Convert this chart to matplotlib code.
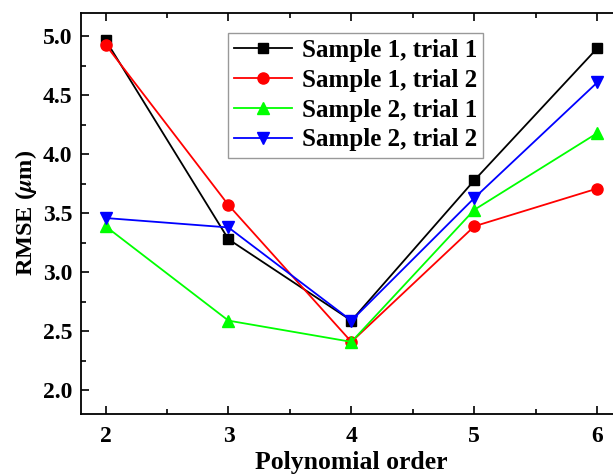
import numpy as np
from matplotlib import pyplot as plt

plt.rcParams['font.family'] = 'Liberation Serif'
plt.rcParams['font.weight'] = 'bold'
plt.rcParams['mathtext.fontset'] = 'stix'

order = [2, 3, 4, 5, 6]
s1t1 = [4.97, 3.28, 2.59, 3.78, 4.90]
s1t2 = [4.93, 3.57, 2.41, 3.39, 3.71]
s2t1 = [3.39, 2.59, 2.41, 3.53, 4.18]
s2t2 = [3.46, 3.38, 2.59, 3.63, 4.61]
labels = ['Sample 1, trial 1', 'Sample 1, trial 2', 'Sample 2, trial 1', 'Sample 2, trial 2']

fig = plt.figure(figsize=(6.13, 4.74), dpi=100)
ax = fig.add_axes([0.132, 0.127, 0.8825, 0.846])

ax.plot(order, s1t1, color='black', marker='s', ms=7, lw=1.3, label=labels[0])
ax.plot(order, s1t2, color='#ff0000', marker='o', ms=8, lw=1.3, label=labels[1])
ax.plot(order, s2t1, color='#00ff00', marker='^', ms=8, lw=1.3, label=labels[2])
ax.plot(order, s2t2, color='#0000ff', marker='v', ms=8, lw=1.3, label=labels[3])

ax.set_xlim(1.8, 6.2)
ax.set_ylim(1.8, 5.2)
ax.set_xticks([2, 3, 4, 5, 6])
ax.set_xticks(np.arange(2.5, 6, 1), minor=True)
ax.set_yticks([2.0, 2.5, 3.0, 3.5, 4.0, 4.5, 5.0])
ax.set_yticks(np.arange(2.25, 5.1, 0.5), minor=True)
ax.set_yticklabels(['2.0', '2.5', '3.0', '3.5', '4.0', '4.5', '5.0'])
ax.tick_params(which='both', direction='in', top=True, right=True, width=1.2)
ax.tick_params(which='major', length=6, labelsize=17)
ax.tick_params(which='minor', length=3.5)
ax.tick_params(axis='x', which='major', pad=9)
ax.tick_params(axis='y', which='major', pad=6)
for s in ax.spines.values():
    s.set_linewidth(1.3)

ax.set_xlabel('Polynomial order', fontsize=18.5, fontweight='bold', labelpad=3)
ax.set_ylabel(r'RMSE ($\mu$m)', fontsize=17.5, fontweight='bold', labelpad=3)

leg = ax.legend(loc='upper left', bbox_to_anchor=(0.272, 0.95), fontsize=18,
                fancybox=False, edgecolor='gray', handlelength=2.3,
                borderpad=0.25, labelspacing=0.27, handletextpad=0.4, borderaxespad=0)
leg.get_frame().set_linewidth(1.0)

fig.savefig('out.png', dpi=100)
